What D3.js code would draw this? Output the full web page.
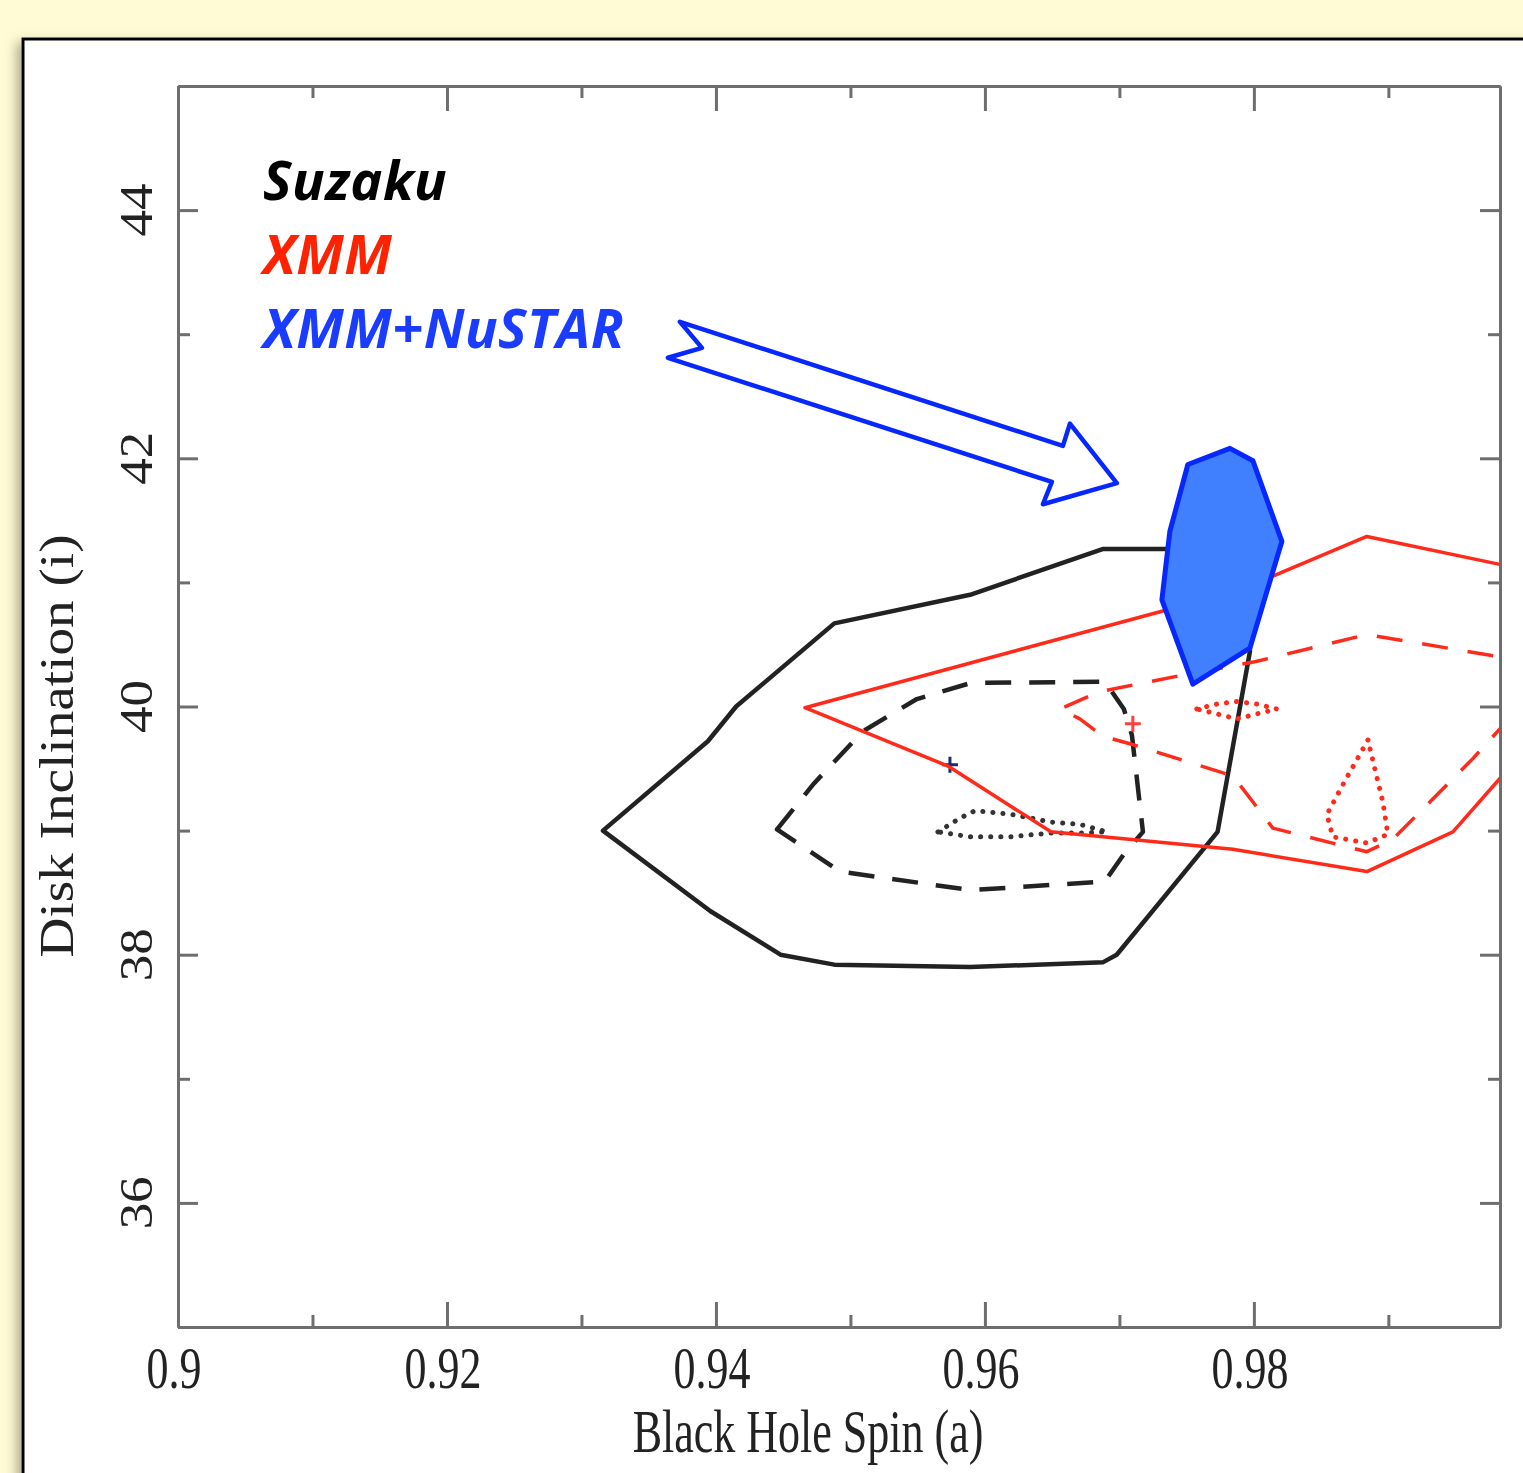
<!DOCTYPE html>
<meta charset="utf-8">
<style>
body { margin: 0; background: #fffbd4; }
.axis path, .axis line { stroke: #6e6e6e; stroke-width: 3px; }
.contour { fill: none; stroke-linejoin: round; }
</style>
<body>
<script src="https://cdnjs.cloudflare.com/ajax/libs/d3/7.8.5/d3.min.js"></script>
<script>
// contour vertices: [spin, inclination]
var suzaku99 = [[0.9316,39.0],[0.9394,39.72],[0.9415,40.0],[0.9488,40.67],[0.9589,40.9],[0.9688,41.27],
  [0.9735,41.27],[0.9797,40.85],[0.9797,40.44],[0.9773,38.99],[0.9698,38.0],[0.9688,37.94],
  [0.9589,37.9],[0.9488,37.92],[0.9448,38.0],[0.9396,38.35]];
var suzaku90 = [[0.94454,39.01],[0.94729,39.38],[0.95093,39.8],[0.95494,40.06],[0.95896,40.19],[0.96892,40.2],
  [0.97033,39.98],[0.97093,39.77],[0.97175,38.99],[0.97033,38.81],[0.96892,38.59],[0.95896,38.52],
  [0.94922,38.67],[0.94729,38.81]];
var suzaku68 = [[0.95651,38.99],[0.95814,39.1],[0.95926,39.16],[0.96201,39.13],[0.96483,39.07],[0.96706,39.05],
  [0.96907,38.99],[0.96706,38.98],[0.96483,38.98],[0.96186,38.95],[0.95888,38.95]];
var suzakuBest = [0.9574, 39.53];

var xmm99 = [[1.0012,41.12],[0.99829,41.145],[0.9884,41.37],[0.98141,41.05],[0.97323,40.77],[0.94662,39.99],
  [0.95725,39.52],[0.96491,38.99],[0.97844,38.85],[0.9884,38.67],[0.9948,38.99],[0.99829,39.42],[1.0012,39.72]];
var xmm90 = [[1.0012,40.38],[0.99829,40.40],[0.9884,40.58],[0.98007,40.36],[0.97502,40.26],[0.96855,40.12],
  [0.96558,39.98],[0.96706,39.9],[0.96877,39.76],[0.97078,39.7],[0.97844,39.44],[0.97993,39.23],
  [0.98141,39.02],[0.9884,38.83],[0.99033,38.93],[0.99628,39.58],[0.99829,39.82],[1.0012,40.05]];
var xmm68a = [[0.97576,39.98],[0.97725,40.02],[0.97874,40.04],[0.98022,40.02],[0.98171,39.98],
  [0.98022,39.94],[0.97874,39.9],[0.97725,39.94]];
var xmm68b = [[0.98848,39.73],[0.98677,39.4],[0.98543,39.13],[0.98587,38.95],[0.9884,38.9],[0.98996,38.97],[0.98959,39.23]];
var xmmBest = [0.971, 39.86];

var nustar = [[0.97509,41.95],[0.97822,42.08],[0.97993,41.98],[0.98208,41.33],[0.9797,40.47],
  [0.97546,40.18],[0.97316,40.86],[0.97375,41.41]];

var arrowPts = [[0.93732,43.1],[0.96580,42.1],[0.96632,42.28],[0.96981,41.8],[0.96431,41.63],
  [0.96498,41.81],[0.93643,42.81],[0.93896,42.89]];

var xMajor = [0.9, 0.92, 0.94, 0.96, 0.98];
var xMinor = [0.91, 0.93, 0.95, 0.97, 0.99];
var yMajor = [36, 38, 40, 42, 44];
var yMinor = [35, 37, 39, 41, 43];

var legendNames = ["Suzaku", "XMM", "XMM+NuSTAR"];
var legendColors = ["#000000", "#ff2200", "#1a3cff"];

var W = 1523, H = 1473;
var pLeft = 178, pRight = 1500, pTop = 86, pBottom = 1327;

var svg = d3.select("body").append("svg")
    .attr("width", W).attr("height", H);

var defs = svg.append("defs");
var f = defs.append("filter").attr("id", "shadow").attr("x", "-5%").attr("y", "-5%").attr("width", "110%").attr("height", "110%");
f.append("feDropShadow").attr("dx", -5).attr("dy", 5).attr("stdDeviation", 6)
  .attr("flood-color", "#7a7660").attr("flood-opacity", 0.6);
defs.append("clipPath").attr("id", "plotclip").append("rect")
  .attr("x", pLeft).attr("y", pTop).attr("width", pRight - pLeft).attr("height", pBottom - pTop);

// slide frame
svg.append("rect")
    .attr("x", 23).attr("y", 39).attr("width", W).attr("height", H)
    .attr("fill", "#fff").attr("stroke", "#000").attr("stroke-width", 3)
    .attr("filter", "url(#shadow)");

var x = d3.scaleLinear().domain([0.9, 0.9983]).range([pLeft, pRight]),
    y = d3.scaleLinear().domain([35, 45]).range([pBottom, pTop]);

function ticks(axis, vals, size) {
  return axis.tickValues(vals).tickSize(size).tickSizeOuter(0).tickFormat("");
}

// axes, ticks pointing inward on all four sides
[[d3.axisBottom, pBottom], [d3.axisTop, pTop]].forEach(function(a) {
  svg.append("g").attr("class", "axis").attr("transform", "translate(0," + a[1] + ")").call(ticks(a[0](x), xMinor, -12));
  svg.append("g").attr("class", "axis").attr("transform", "translate(0," + a[1] + ")").call(ticks(a[0](x), xMajor, -25));
});
[[d3.axisLeft, pLeft], [d3.axisRight, pRight]].forEach(function(a) {
  svg.append("g").attr("class", "axis").attr("transform", "translate(" + a[1] + ",0)").call(ticks(a[0](y), yMinor, -12));
  svg.append("g").attr("class", "axis").attr("transform", "translate(" + a[1] + ",0)").call(ticks(a[0](y), yMajor, -20));
});

svg.selectAll(".xlab").data(xMajor).enter().append("text")
    .attr("transform", function(d) { return "translate(" + (x(d) - 4) + ",1388) scale(1,1.35)"; })
    .attr("text-anchor", "middle")
    .style("font", "44px 'Liberation Serif', serif")
    .attr("fill", "#222")
    .text(function(d) { return d3.format(".2~f")(d); });

svg.selectAll(".ylab").data(yMajor).enter().append("text")
    .attr("transform", function(d) { return "translate(152," + y(d) + ") scale(1,1.15) rotate(-90)"; })
    .attr("text-anchor", "middle")
    .style("font", "46px 'Liberation Serif', serif")
    .attr("fill", "#222")
    .text(function(d) { return d; });

svg.append("text")
    .attr("transform", "translate(808,1452) scale(1,1.4)")
    .attr("text-anchor", "middle")
    .style("font", "44px 'Liberation Serif', serif")
    .attr("fill", "#222")
    .text("Black Hole Spin (a)");

svg.append("text")
    .attr("transform", "translate(73,746) scale(1,1.15) rotate(-90)")
    .attr("text-anchor", "middle")
    .style("font", "48px 'Liberation Serif', serif")
    .attr("fill", "#222")
    .text("Disk Inclination (i)");

var plot = svg.append("g").attr("clip-path", "url(#plotclip)");

var line = d3.line().x(function(d) { return x(d[0]); }).y(function(d) { return y(d[1]); });
function closedLine(pts) { return line(pts) + "Z"; }

function contour(pts, color, width, dash, isClosed) {
  plot.append("path")
      .attr("class", "contour")
      .attr("d", isClosed ? closedLine(pts) : line(pts))
      .attr("stroke", color)
      .attr("stroke-width", width)
      .attr("stroke-dasharray", dash)
      .attr("stroke-linecap", dash === "0.1,10" ? "round" : "butt");
}

function cross(p, color) {
  plot.append("path")
      .attr("d", "M" + (x(p[0]) - 8) + "," + y(p[1]) + "h16M" + x(p[0]) + "," + (y(p[1]) - 8) + "v16")
      .attr("stroke", color).attr("stroke-width", 3);
}

contour(suzaku99, "#222", 4.5, null, true);
contour(suzaku90, "#222", 4.5, "26,18", true);
contour(suzaku68, "#333", 5, "0.1,10", true);
cross(suzakuBest, "#1a2a70");

contour(xmm99, "#ff2a1a", 3.5, null, false);
contour(xmm90, "#ff2a1a", 3.5, "26,20", false);
contour(xmm68a, "#ff2a1a", 5, "0.1,10", true);
contour(xmm68b, "#ff2a1a", 5, "0.1,10", true);
cross(xmmBest, "#ff4040");

plot.append("path")
    .attr("d", closedLine(nustar))
    .attr("fill", "#4080ff")
    .attr("stroke", "#0628ff")
    .attr("stroke-width", 5)
    .attr("stroke-linejoin", "round");

svg.append("path")
    .attr("d", closedLine(arrowPts))
    .attr("fill", "none")
    .attr("stroke", "#0628ff")
    .attr("stroke-width", 4.5)
    .attr("stroke-linejoin", "round");

svg.selectAll(".legend").data(legendNames).enter().append("text")
    .attr("x", 263)
    .attr("y", function(d, i) { return 200 + i * 74; })
    .attr("fill", function(d, i) { return legendColors[i]; })
    .style("font", "italic bold 54px 'Open Sans', sans-serif")
    .style("letter-spacing", "0.5px")
    .text(function(d) { return d; });
</script>
</body>
